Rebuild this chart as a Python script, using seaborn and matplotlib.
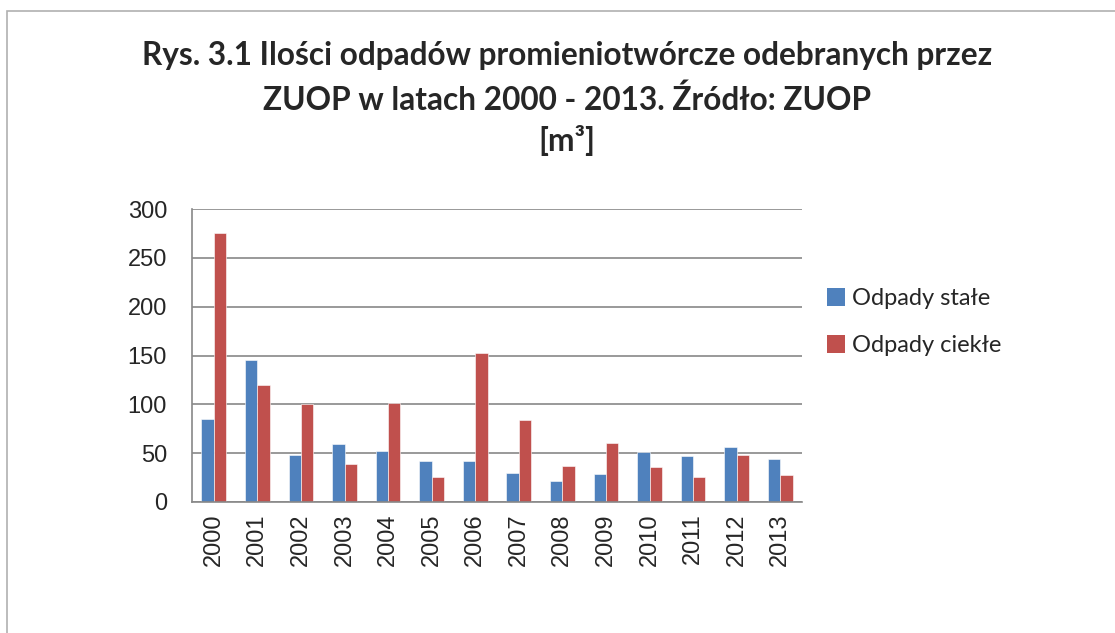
import numpy as np
import pandas as pd
import matplotlib
matplotlib.use('Agg')
import matplotlib.pyplot as plt
import seaborn as sns
from matplotlib.patches import Patch, Rectangle

# ── DATA ──
years = ['2000', '2001', '2002', '2003', '2004', '2005', '2006',
         '2007', '2008', '2009', '2010', '2011', '2012', '2013']
odpady_stale = [85, 145, 48, 59, 52, 42, 42, 30, 22, 29, 51, 47, 56, 44]
odpady_ciekle = [275, 120, 100, 39, 101, 26, 153, 84, 37, 60, 36, 26, 48, 28]
series_names = ['Odpady stałe', 'Odpady ciekłe']
title_lines = ['Rys. 3.1 Ilości odpadów promieniotwórcze odebranych przez',
               'ZUOP w latach 2000 - 2013. Źródło: ZUOP',
               '[m³]']

df = pd.DataFrame({
    'rok': years * 2,
    'wartosc': odpady_stale + odpady_ciekle,
    'seria': [series_names[0]] * len(years) + [series_names[1]] * len(years),
})

sns.set_style('white')
plt.rcParams['font.family'] = ['Liberation Sans', 'DejaVu Sans']

W, H = 1115, 633
fig = plt.figure(figsize=(W / 100, H / 100), dpi=100)

# outer chart border (only top/left visible in the reference)
fig.patches.append(Rectangle((7 / W, -0.1), 1.2, (H - 11) / H + 0.1,
                             transform=fig.transFigure, fill=False,
                             edgecolor='#b0b0b0', linewidth=1.2))

ax = fig.add_axes([192 / W, (H - 502) / H, 610 / W, 293 / H])
palette = {series_names[0]: '#4F81BD', series_names[1]: '#C0504D'}
sns.barplot(data=df, x='rok', y='wartosc', hue='seria', palette=palette,
            width=0.57, ax=ax, legend=False, saturation=1,
            edgecolor='white', linewidth=0.4)

ax.set_ylim(0, 300)
ax.set_yticks(np.arange(0, 301, 50))
ax.set_xlim(-0.5, len(years) - 0.5)
ax.yaxis.grid(True, color='#888888', linewidth=1.2)
ax.set_axisbelow(True)
for s in ['top', 'right']:
    ax.spines[s].set_visible(False)
for s in ['left', 'bottom']:
    ax.spines[s].set_color('#888888')
    ax.spines[s].set_linewidth(1.2)
ax.tick_params(axis='y', length=8, color='#888888', width=1.2,
               labelsize=17, pad=10)
ax.tick_params(axis='x', length=0, labelsize=17, pad=8, rotation=90)
ax.set_xlabel('')
ax.set_ylabel('')

# title
ys = [56, 100, 140]
for line, yy in zip(title_lines, ys):
    fig.text(567 / W, 1 - yy / H, line, ha='center', va='center',
             fontsize=22.8, fontweight='bold', family=['Lato', 'DejaVu Sans'])

handles = [Patch(facecolor=palette[n], edgecolor='none') for n in series_names]
fig.legend(handles, series_names, loc='upper left',
           bbox_to_anchor=(806 / W, 1 - 267 / H), frameon=False,
           handlelength=0.75, handleheight=0.75, handletextpad=0.3,
           labelspacing=1.1, prop={'family': ['Lato', 'DejaVu Sans'], 'size': 17})

fig.savefig('out.png', dpi=100)
